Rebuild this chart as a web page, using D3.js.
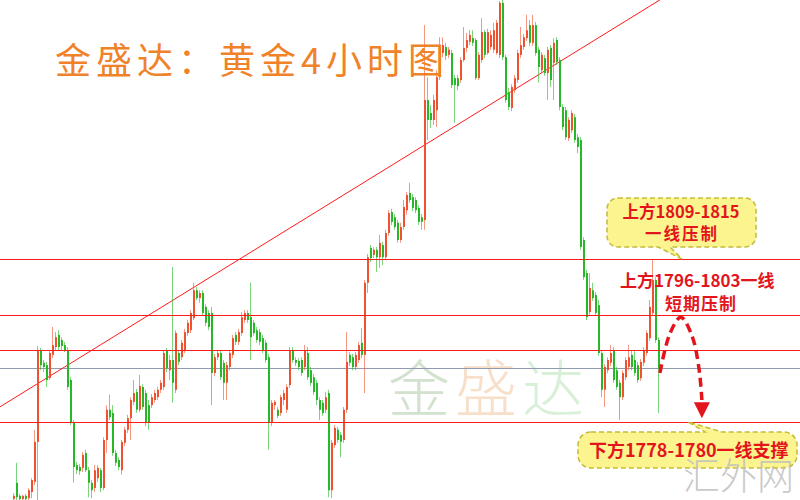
<!DOCTYPE html>
<html><head><meta charset="utf-8">
<script src="https://cdn.jsdelivr.net/npm/d3@7"></script>
<style>html,body{margin:0;padding:0;background:#fff;} svg{display:block;}</style>
</head><body><svg id="chart" width="800" height="500"></svg>
<script>
// OHLC rows [open, high, low, close] of the gold 4H chart
const candles = [
[1763.4,1764.7,1762.6,1764.1],[1766.9,1771.2,1763.2,1763.8],[1764.1,1764.5,1762.8,1763.4],[1763.4,1764.3,1763.0,1764.1],
[1764.1,1764.5,1762.8,1763.4],[1763.6,1765.8,1763.2,1765.3],[1764.9,1767.9,1763.6,1767.5],[1767.1,1778.3,1766.4,1775.7],
[1775.7,1796.3,1763.2,1795.4],[1795.4,1795.9,1791.1,1792.2],[1792.7,1793.3,1790.7,1791.8],[1792.2,1792.9,1787.5,1789.0],
[1789.4,1795.4,1789.0,1794.8],[1794.4,1800.4,1793.7,1796.5],[1796.1,1799.3,1795.4,1798.2],[1798.7,1799.7,1795.4,1796.1],
[1797.6,1798.2,1795.4,1796.3],[1796.5,1797.2,1795.0,1795.4],[1795.4,1796.1,1786.9,1787.5],[1789.0,1789.6,1779.3,1779.8],
[1779.8,1780.4,1766.9,1770.3],[1770.7,1771.4,1768.8,1769.6],[1770.3,1770.9,1768.6,1769.4],[1770.1,1773.5,1769.2,1772.9],
[1773.3,1774.0,1769.2,1769.6],[1769.6,1770.3,1763.8,1766.9],[1766.9,1767.5,1763.6,1765.3],[1765.8,1770.7,1764.9,1769.6],
[1767.9,1770.7,1767.1,1770.1],[1769.6,1770.1,1764.9,1765.8],[1765.8,1776.7,1765.3,1776.1],[1776.1,1783.6,1773.3,1782.6],
[1782.6,1785.8,1780.4,1781.0],[1781.9,1783.6,1772.7,1773.3],[1773.3,1774.0,1770.5,1771.2],[1771.8,1772.4,1769.6,1770.3],
[1769.6,1776.1,1768.6,1775.7],[1775.5,1778.9,1774.8,1778.3],[1778.3,1781.5,1777.6,1780.8],[1780.8,1785.3,1776.1,1784.7],
[1784.3,1789.0,1783.6,1786.2],[1786.4,1787.1,1781.9,1782.6],[1782.6,1790.1,1782.1,1787.7],[1787.5,1788.1,1782.6,1783.2],
[1786.2,1786.9,1779.1,1779.8],[1783.6,1784.7,1778.3,1779.8],[1783.6,1786.0,1783.0,1785.3],[1784.7,1786.9,1784.1,1786.2],
[1785.3,1787.5,1784.7,1786.9],[1786.9,1789.0,1786.2,1788.4],[1787.5,1795.4,1786.9,1794.8],[1795.4,1795.9,1790.7,1791.6],
[1791.1,1794.4,1789.0,1793.3],[1793.3,1813.3,1784.1,1788.4],[1786.9,1799.7,1786.2,1799.1],[1794.8,1795.4,1792.2,1792.9],
[1793.9,1797.6,1793.3,1797.0],[1795.4,1800.0,1794.8,1799.3],[1799.1,1801.9,1798.5,1801.3],[1799.7,1804.0,1799.1,1803.4],
[1802.3,1809.9,1801.9,1808.3],[1808.3,1809.0,1806.2,1806.6],[1806.6,1808.3,1805.6,1807.7],[1807.7,1808.3,1802.8,1803.4],
[1804.7,1805.3,1800.6,1801.3],[1803.4,1804.0,1799.7,1800.4],[1803.4,1804.7,1783.6,1790.5],[1790.5,1794.6,1789.9,1793.9],
[1793.9,1795.4,1793.3,1794.8],[1794.8,1795.4,1789.0,1789.6],[1792.7,1793.3,1784.7,1788.4],[1788.4,1792.9,1784.7,1792.2],
[1791.8,1795.4,1791.1,1794.8],[1794.4,1798.7,1793.7,1798.0],[1798.7,1799.3,1796.5,1797.2],[1797.2,1800.0,1796.5,1799.3],
[1799.1,1803.6,1798.5,1802.5],[1801.9,1804.0,1801.3,1803.4],[1803.4,1804.0,1801.3,1801.9],[1802.5,1809.9,1793.3,1798.2],
[1801.3,1801.9,1798.5,1799.1],[1799.7,1800.4,1797.0,1797.6],[1799.3,1800.0,1796.5,1797.2],[1798.0,1798.7,1794.8,1795.4],
[1797.0,1797.6,1792.7,1793.3],[1793.9,1794.6,1774.0,1779.8],[1779.8,1784.7,1779.1,1784.1],[1783.6,1784.7,1782.6,1784.3],
[1782.6,1783.2,1780.8,1781.3],[1781.9,1785.8,1781.3,1785.3],[1784.7,1786.9,1783.6,1786.2],[1782.6,1788.1,1781.9,1787.5],
[1787.9,1796.1,1787.3,1795.4],[1795.4,1796.1,1792.7,1793.3],[1793.3,1793.9,1792.0,1792.7],[1793.1,1793.7,1791.1,1791.8],
[1793.3,1793.9,1789.9,1790.5],[1791.8,1796.5,1791.1,1795.4],[1794.8,1796.1,1789.0,1789.6],[1791.1,1791.8,1787.7,1788.4],
[1789.6,1790.3,1785.8,1786.4],[1788.4,1789.0,1783.6,1784.7],[1784.7,1785.3,1780.4,1782.6],[1784.1,1784.7,1781.3,1781.9],
[1782.6,1786.4,1781.9,1785.3],[1786.2,1786.9,1763.8,1765.3],[1765.3,1776.1,1763.6,1775.5],[1775.0,1779.3,1774.4,1778.7],
[1778.3,1778.9,1775.5,1776.1],[1777.2,1777.8,1772.4,1775.7],[1776.1,1783.2,1775.5,1782.6],[1782.6,1799.3,1781.9,1792.9],
[1794.4,1795.0,1792.0,1792.7],[1793.9,1794.6,1791.1,1791.8],[1791.8,1795.0,1791.1,1794.4],[1793.3,1797.2,1792.7,1796.5],
[1797.0,1800.2,1793.7,1794.4],[1794.4,1810.5,1786.2,1809.9],[1809.9,1816.1,1807.7,1815.4],[1817.4,1818.0,1814.4,1815.2],
[1815.9,1817.6,1815.2,1817.0],[1817.0,1817.6,1812.2,1815.4],[1815.4,1820.2,1813.1,1818.5],[1818.0,1818.7,1813.7,1815.4],
[1815.4,1821.3,1814.8,1820.6],[1820.6,1825.5,1820.0,1824.9],[1825.1,1825.8,1822.3,1823.0],[1824.0,1824.7,1821.3,1821.9],
[1822.8,1823.4,1818.5,1819.1],[1819.1,1822.8,1818.5,1821.9],[1821.9,1827.7,1821.3,1826.2],[1825.5,1829.4,1824.5,1828.8],
[1829.2,1831.4,1827.1,1827.7],[1828.3,1829.0,1825.3,1826.0],[1827.7,1828.3,1824.9,1825.5],[1826.0,1826.6,1822.3,1823.0],
[1824.0,1824.7,1821.3,1823.0],[1823.4,1865.3,1821.3,1849.2],[1849.2,1854.1,1840.6,1844.9],[1846.4,1848.1,1843.2,1844.9],
[1844.9,1850.3,1843.8,1849.2],[1847.0,1855.6,1843.4,1854.1],[1854.1,1862.7,1853.5,1860.6],[1859.3,1862.7,1858.4,1861.0],
[1860.6,1861.5,1857.8,1858.7],[1858.9,1860.6,1858.2,1860.0],[1859.3,1860.0,1851.8,1852.4],[1853.9,1854.6,1844.3,1852.4],
[1853.9,1854.6,1851.3,1852.2],[1853.5,1858.4,1852.9,1857.8],[1857.8,1864.9,1857.4,1860.4],[1860.4,1863.6,1859.5,1862.1],
[1861.7,1864.2,1861.0,1863.2],[1862.5,1864.2,1860.8,1861.5],[1862.1,1862.5,1853.5,1853.9],[1853.9,1859.5,1853.5,1858.9],
[1857.8,1866.8,1857.2,1863.8],[1863.8,1864.2,1858.2,1858.9],[1859.3,1864.5,1858.9,1863.8],[1860.6,1864.2,1860.0,1863.2],
[1860.0,1865.8,1859.3,1864.2],[1859.3,1866.4,1858.9,1865.8],[1858.9,1870.5,1858.2,1870.1],[1870.1,1870.7,1857.8,1858.4],
[1858.4,1858.9,1848.6,1849.2],[1850.9,1851.8,1847.0,1847.7],[1847.5,1852.6,1846.8,1852.0],[1851.3,1854.6,1850.7,1853.9],
[1853.5,1860.0,1852.9,1859.3],[1858.9,1864.9,1858.2,1861.0],[1860.6,1863.4,1860.0,1862.7],[1862.5,1867.5,1861.9,1864.2],
[1865.3,1866.4,1860.8,1861.5],[1861.5,1867.5,1860.8,1865.3],[1865.3,1866.0,1858.7,1859.3],[1860.0,1860.6,1852.9,1856.3],
[1855.6,1859.5,1855.0,1858.9],[1858.2,1858.9,1854.4,1855.0],[1855.0,1860.6,1849.2,1860.0],[1860.4,1861.0,1852.0,1853.5],
[1857.2,1862.5,1849.2,1861.5],[1862.1,1862.7,1856.7,1857.4],[1857.8,1858.4,1847.0,1847.7],[1847.7,1848.3,1842.7,1843.4],
[1847.0,1847.7,1840.6,1841.2],[1841.0,1845.5,1840.4,1844.9],[1842.7,1847.0,1842.1,1846.4],[1845.5,1846.2,1840.0,1840.6],
[1841.2,1841.9,1837.8,1839.1],[1840.6,1841.2,1817.0,1817.6],[1819.1,1819.7,1810.5,1811.1],[1812.0,1812.7,1801.9,1802.5],
[1803.6,1812.0,1803.0,1808.8],[1808.3,1809.9,1806.0,1806.6],[1807.3,1807.9,1802.8,1803.4],[1805.1,1806.2,1794.2,1794.8],
[1794.8,1795.4,1785.3,1786.9],[1786.9,1792.4,1783.2,1791.8],[1791.1,1793.9,1790.5,1793.3],[1792.7,1796.5,1792.0,1794.8],
[1795.4,1796.1,1788.4,1789.0],[1791.1,1791.8,1786.9,1787.5],[1788.4,1789.0,1780.4,1785.3],[1785.3,1791.1,1784.7,1790.5],
[1789.6,1793.9,1789.0,1793.3],[1791.8,1796.5,1791.1,1793.9],[1794.4,1795.4,1791.1,1791.8],[1793.3,1795.4,1789.9,1790.5],
[1792.2,1792.9,1788.4,1789.0],[1789.4,1793.5,1788.8,1792.9],[1792.7,1796.1,1792.0,1795.4],[1794.8,1799.7,1794.2,1799.1],
[1798.0,1806.2,1797.4,1804.7],[1803.4,1814.8,1802.8,1810.5],[1810.5,1811.1,1797.0,1797.6],[1797.6,1798.2,1781.9,1791.6]
];
const levels = [1815, 1803, 1795.5, 1780];          // horizontal resistance / support lines
const lastPrice = 1791.6;                             // current price line
const trendline = [[-5, 1783.1], [216, 1871.0]];      // [bar index, price]
const projection = [[215.3,1790.5],[218.7,1799.1],[222.3,1802.5],[226.0,1798.5],[228.3,1791.6],[229.3,1784.7]];
const projectionTip = [229.3, 1780.8];
const titleText = "金盛达：黄金4小时图";
const watermarkChars = ["金", "盛", "达"];
const siteMark = "汇外网";
const note1 = ["上方1809-1815", "一线压制"];
const note2 = ["上方1796-1803一线", "短期压制"];
const note3 = "下方1778-1780一线支撑";

const svg = d3.select("#chart");
const W = 800, H = 500;
const x = d3.scaleLinear().domain([0, candles.length - 1]).range([14, 659]);
const y = d3.scaleLinear().domain([1763.2, 1870.7]).range([H, 0]);
const UP = "#f0512f", DOWN = "#27b827", LINE = "#ff1a1a";
const CJK = "'Noto Sans CJK SC', 'Noto Sans', sans-serif";

svg.append("rect").attr("width", W).attr("height", H).attr("fill", "#fff");

// watermark
const wmColors = ["#d2e2cf", "#f7dfca", "#d9f0d8"];
svg.append("g").selectAll("text").data(watermarkChars).join("text")
  .attr("x", (d, i) => 388 + i * 67).attr("y", 412)
  .attr("font-family", CJK).attr("font-size", 62).attr("font-weight", 300)
  .attr("fill", (d, i) => wmColors[i]).text(d => d);

// current price line
svg.append("line").attr("x1", 0).attr("x2", W)
  .attr("y1", Math.round(y(lastPrice)) + 0.5).attr("y2", Math.round(y(lastPrice)) + 0.5)
  .attr("stroke", "#8f9bb0").attr("stroke-width", 1);

// trendline
svg.append("line")
  .attr("x1", x(trendline[0][0])).attr("y1", y(trendline[0][1]))
  .attr("x2", x(trendline[1][0])).attr("y2", y(trendline[1][1]))
  .attr("stroke", LINE).attr("stroke-width", 1);

// candles
const g = svg.append("g");
candles.forEach((c, i) => {
  const [o, h, l, cl] = c;
  const col = cl >= o ? UP : DOWN;
  const cx = Math.round(x(i));
  g.append("line").attr("x1", cx - 0.5).attr("x2", cx - 0.5)
    .attr("y1", y(h)).attr("y2", y(l))
    .attr("stroke", col).attr("stroke-opacity", 0.6).attr("stroke-width", 1);
  const top = y(Math.max(o, cl)), bot = y(Math.min(o, cl));
  g.append("rect").attr("x", cx - 1).attr("width", 2)
    .attr("y", top).attr("height", Math.max(1, bot - top)).attr("fill", col);
});

// horizontal level lines, on top of the candles
svg.append("g").selectAll("line").data(levels).join("line")
  .attr("x1", 0).attr("x2", W)
  .attr("y1", d => Math.round(y(d)) + 0.5).attr("y2", d => Math.round(y(d)) + 0.5)
  .attr("stroke", LINE).attr("stroke-width", 1.1);

// title
svg.append("text").attr("x", 55).attr("y", 74)
  .attr("font-family", CJK).attr("font-size", 36).attr("letter-spacing", 5)
  .attr("fill", "#f0822a").text(titleText);

// callout helper
function callout(x0, y0, x1, y1, r, tail) {
  const p = d3.path();
  p.moveTo(x0 + r, y0);
  if (tail.side === "top") { p.lineTo(tail.a, y0); p.lineTo(tail.tx, tail.ty); p.lineTo(tail.b, y0); }
  p.lineTo(x1 - r, y0); p.arcTo(x1, y0, x1, y0 + r, r);
  p.lineTo(x1, y1 - r); p.arcTo(x1, y1, x1 - r, y1, r);
  if (tail.side === "bottom") { p.lineTo(tail.a, y1); p.lineTo(tail.tx, tail.ty); p.lineTo(tail.b, y1); }
  p.lineTo(x0 + r, y1); p.arcTo(x0, y1, x0, y1 - r, r);
  p.lineTo(x0, y0 + r); p.arcTo(x0, y0, x0 + r, y0, r);
  p.closePath();
  svg.append("path").attr("d", p.toString())
    .attr("fill", "#fcf48e").attr("stroke", "#c4bb3a")
    .attr("stroke-width", 1.5).attr("stroke-dasharray", "5,3");
}
const RED = "#e3151c";

callout(607, 198, 756, 247, 11, {side: "bottom", a: 670, b: 658, tx: 682, ty: y(levels[0])});
svg.append("text").attr("x", 681).attr("y", 218).attr("text-anchor", "middle")
  .attr("font-family", CJK).attr("font-size", 16.5).attr("font-weight", 700)
  .attr("fill", RED).text(note1[0]);
svg.append("text").attr("x", 682).attr("y", 240).attr("text-anchor", "middle")
  .attr("font-family", CJK).attr("font-size", 16.5).attr("font-weight", 700).attr("letter-spacing", 2)
  .attr("fill", RED).text(note1[1]);

svg.append("text").attr("x", 620).attr("y", 287)
  .attr("font-family", CJK).attr("font-size", 17).attr("font-weight", 700)
  .attr("fill", RED).text(note2[0]);
svg.append("text").attr("x", 701).attr("y", 310).attr("text-anchor", "middle")
  .attr("font-family", CJK).attr("font-size", 17).attr("font-weight", 700).attr("letter-spacing", 1)
  .attr("fill", RED).text(note2[1]);

callout(578, 432, 797, 468, 13, {side: "top", a: 705, b: 722, tx: 688, ty: y(levels[3])});
svg.append("text").attr("x", 589).attr("y", 457)
  .attr("font-family", CJK).attr("font-size", 18).attr("font-weight", 700)
  .attr("fill", RED).text(note3);

// projected path
svg.append("path")
  .attr("d", d3.line().x(d => x(d[0])).y(d => y(d[1])).curve(d3.curveCatmullRom)(projection))
  .attr("fill", "none").attr("stroke", RED).attr("stroke-width", 3.5)
  .attr("stroke-dasharray", "9,5");
const tx = x(projectionTip[0]), ty = y(projectionTip[1]);
svg.append("path")
  .attr("d", `M${tx},${ty}L${tx - 8},${ty - 16}L${tx + 8},${ty - 16}Z`)
  .attr("fill", RED);

// site watermark
svg.append("text").attr("x", 683).attr("y", 490)
  .attr("font-family", CJK).attr("font-size", 37).attr("font-weight", 300)
  .attr("fill", "#bfbfbf").attr("fill-opacity", 0.85).text(siteMark);
</script></body></html>
